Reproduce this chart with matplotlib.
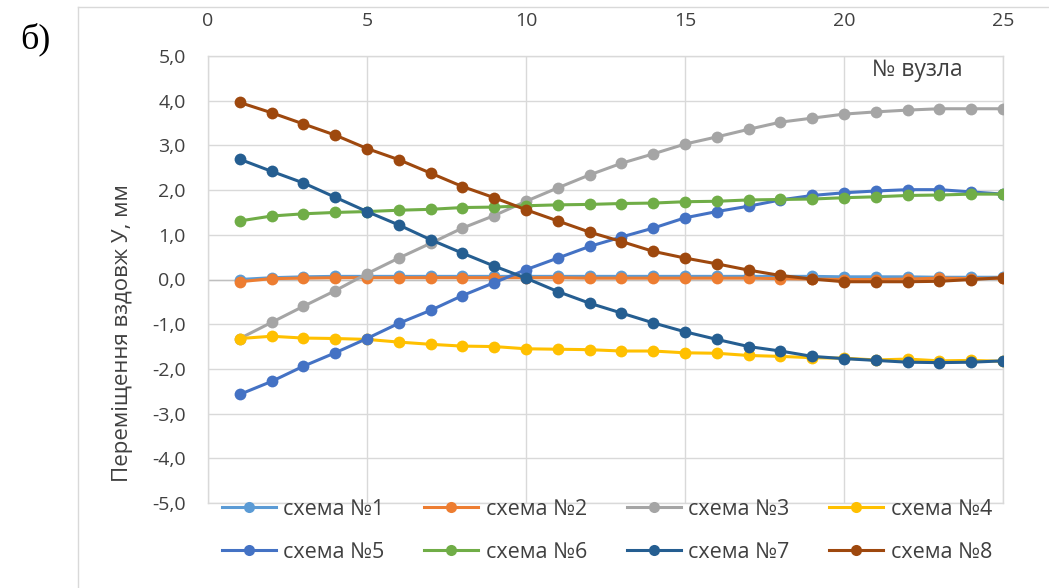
import matplotlib
matplotlib.use("Agg")
import matplotlib.pyplot as plt
from matplotlib.lines import Line2D

nodes = list(range(1, 26))
s1 = [0.00, 0.04, 0.06, 0.07, 0.07, 0.07, 0.07, 0.07, 0.07, 0.07, 0.07, 0.07, 0.07,
      0.07, 0.07, 0.07, 0.07, 0.07, 0.07, 0.06, 0.06, 0.06, 0.05, 0.05, 0.05]
s2 = [-0.05, 0.02, 0.03, 0.04, 0.04, 0.04, 0.04, 0.04, 0.04, 0.04, 0.04, 0.03, 0.03,
      0.03, 0.03, 0.03, 0.03, 0.02, 0.01, 0.00, 0.00, 0.01, 0.03, 0.02, 0.03]
s3 = [-1.32, -0.96, -0.60, -0.25, 0.13, 0.48, 0.81, 1.15, 1.43, 1.75, 2.05, 2.34, 2.60,
      2.81, 3.03, 3.19, 3.36, 3.52, 3.61, 3.70, 3.75, 3.79, 3.82, 3.82, 3.82]
s4 = [-1.32, -1.27, -1.31, -1.32, -1.34, -1.40, -1.45, -1.49, -1.50, -1.55, -1.56, -1.57, -1.60,
      -1.60, -1.64, -1.65, -1.70, -1.72, -1.75, -1.76, -1.80, -1.78, -1.82, -1.81, -1.83]
s5 = [-2.57, -2.28, -1.94, -1.64, -1.32, -0.98, -0.69, -0.36, -0.07, 0.22, 0.48, 0.74, 0.95,
      1.15, 1.38, 1.52, 1.64, 1.78, 1.88, 1.94, 1.98, 2.01, 2.01, 1.96, 1.91]
s6 = [1.31, 1.42, 1.47, 1.50, 1.52, 1.55, 1.57, 1.61, 1.62, 1.65, 1.67, 1.68, 1.70,
      1.71, 1.74, 1.75, 1.78, 1.79, 1.80, 1.83, 1.85, 1.88, 1.89, 1.91, 1.91]
s7 = [2.69, 2.42, 2.16, 1.84, 1.52, 1.22, 0.89, 0.59, 0.30, 0.03, -0.27, -0.53, -0.75,
      -0.97, -1.17, -1.34, -1.50, -1.60, -1.72, -1.77, -1.81, -1.85, -1.86, -1.85, -1.82]
s8 = [3.96, 3.73, 3.48, 3.23, 2.93, 2.68, 2.38, 2.08, 1.83, 1.56, 1.31, 1.06, 0.85,
      0.63, 0.48, 0.35, 0.21, 0.09, 0.01, -0.05, -0.05, -0.05, -0.04, 0.00, 0.04]

series = [s1, s2, s3, s4, s5, s6, s7, s8]
labels = ["схема №1", "схема №2", "схема №3", "схема №4",
          "схема №5", "схема №6", "схема №7", "схема №8"]
colors = ["#5B9BD5", "#ED7D31", "#A5A5A5", "#FFC000",
          "#4472C4", "#70AD47", "#255E91", "#9E480E"]
x_ticks = [0, 5, 10, 15, 20, 25]
y_ticks = [-5, -4, -3, -2, -1, 0, 1, 2, 3, 4, 5]
y_label = "Переміщення вздовж У, мм"
x_label = "№ вузла"
panel = "б)"

W, H = 1049, 588
fig = plt.figure(figsize=(W / 100, H / 100), dpi=100)
fig.patch.set_facecolor("white")

font = "Open Sans"
tick_color = "#404040"

# outer chart frame (top and left edges visible)
fig.add_artist(Line2D([78 / W, 78 / W], [0, 1 - 7 / H], transform=fig.transFigure,
                      color="#D9D9D9", lw=1))
fig.add_artist(Line2D([78 / W, 1], [1 - 7 / H, 1 - 7 / H], transform=fig.transFigure,
                      color="#D9D9D9", lw=1))

ax = fig.add_axes([208 / W, 1 - 503 / H, (1003 - 208) / W, (503 - 56) / H])
ax.set_xlim(0, 25)
ax.set_ylim(-5, 5)
ax.set_xticks(x_ticks)
ax.set_yticks(y_ticks)
ax.set_xticklabels([str(v) for v in x_ticks], fontfamily=font, fontsize=14, color=tick_color)
ax.set_yticklabels([f"{v:.1f}".replace(".", ",") for v in y_ticks],
                   fontfamily=font, fontsize=14, color=tick_color)
ax.xaxis.tick_top()
ax.tick_params(axis="both", length=0)
ax.tick_params(axis="x", pad=19)
ax.tick_params(axis="y", pad=16)
ax.grid(True, color="#D9D9D9", lw=1)
ax.set_axisbelow(True)
for sp in ax.spines.values():
    sp.set_color("#D9D9D9")
    sp.set_linewidth(1)
ax.axhline(0, color="#BFBFBF", lw=1, zorder=1)

for vals, lab, c in zip(series, labels, colors):
    ax.plot(nodes, vals, color=c, lw=2.2, marker="o", markersize=8.5,
            markeredgewidth=0, label=lab, zorder=3)

ax.set_ylabel(y_label, fontfamily=font, fontsize=16, color=tick_color)
ax.yaxis.set_label_coords(-0.094, 0.38)

ax.text(0.892, 0.995, x_label, transform=ax.transAxes, ha="center", va="top",
        fontfamily=font, fontsize=16.5, color=tick_color)

fig.text(20 / W, 1 - 39 / H, panel, fontfamily="Liberation Serif", fontsize=26,
         ha="left", va="center", color="black")

order = [0, 4, 1, 5, 2, 6, 3, 7]
leg_handles = [Line2D([0], [0], color=colors[i], lw=2.2, marker="o", markersize=8,
                      markeredgewidth=0) for i in order]
leg = fig.legend(leg_handles, [labels[i] for i in order], ncol=4, loc="upper left",
                 bbox_to_anchor=(222 / W, 1 - 499 / H), frameon=False,
                 prop={"family": font, "size": 15.5}, handlelength=2.5,
                 handletextpad=0.35, columnspacing=1.85, labelspacing=1.0,
                 borderpad=0, borderaxespad=0)
for t in leg.get_texts():
    t.set_color(tick_color)

fig.savefig("out.png", dpi=100)
